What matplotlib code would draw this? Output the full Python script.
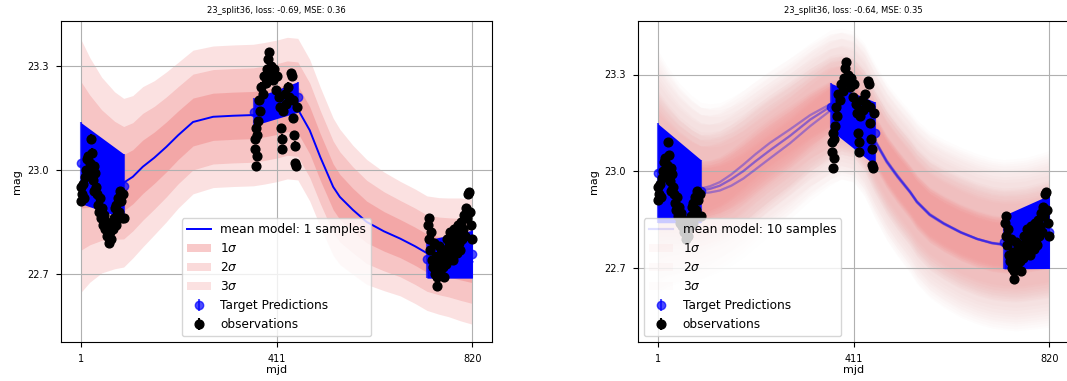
import numpy as np
import matplotlib
matplotlib.use("Agg")
import matplotlib.pyplot as plt

# time grid on which the fitted models are evaluated
mjd_grid = [1, 20, 45, 72, 91, 110, 131, 155, 180, 205, 236, 278, 320, 362, 385, 411,
            433, 455, 480, 502, 529, 543, 570, 599, 635, 669, 700, 725, 750, 770, 795, 820]

# fit with a single model sample
mean_1 = [23.012, 23.0, 22.985, 22.97, 22.963, 22.98, 23.009, 23.035, 23.066, 23.10, 23.138,
          23.153, 23.156, 23.158, 23.163, 23.17, 23.178, 23.175, 23.114, 23.037, 22.951, 22.922,
          22.885, 22.85, 22.823, 22.802, 22.78, 22.76, 22.752, 22.748, 22.742, 22.735]
sigma_1 = [0.122, 0.108, 0.094, 0.085, 0.081, 0.078, 0.077, 0.074, 0.072, 0.070, 0.069,
           0.068, 0.068, 0.068, 0.068, 0.068, 0.068, 0.068, 0.068, 0.067, 0.066, 0.065,
           0.062, 0.060, 0.057, 0.055, 0.055, 0.055, 0.056, 0.057, 0.059, 0.060]

# fit with 10 model samples: three distinct mean tracks
mean_10_a = [23.0, 22.986, 22.968, 22.952, 22.946, 22.953, 22.966, 22.99, 23.02, 23.052, 23.088,
             23.13, 23.174, 23.208, 23.215, 23.202, 23.162, 23.098, 23.033, 22.988, 22.937, 22.907,
             22.867, 22.839, 22.811, 22.79, 22.778, 22.773, 22.772, 22.775, 22.782, 22.79]
mean_10_b = [23.0, 22.985, 22.965, 22.948, 22.94, 22.945, 22.955, 22.975, 23.0, 23.03, 23.065,
             23.11, 23.16, 23.2, 23.21, 23.2, 23.16, 23.095, 23.03, 22.985, 22.935, 22.905,
             22.865, 22.838, 22.81, 22.79, 22.777, 22.772, 22.772, 22.775, 22.782, 22.79]
mean_10_c = [23.0, 22.983, 22.961, 22.942, 22.932, 22.934, 22.94, 22.955, 22.977, 23.005, 23.04,
             23.087, 23.14, 23.188, 23.204, 23.197, 23.158, 23.092, 23.027, 22.982, 22.933, 22.903,
             22.863, 22.836, 22.809, 22.789, 22.776, 22.771, 22.771, 22.774, 22.781, 22.789]
sigma_10 = [0.114, 0.104, 0.094, 0.087, 0.083, 0.080, 0.078, 0.077, 0.076, 0.075, 0.074,
            0.073, 0.072, 0.072, 0.071, 0.071, 0.072, 0.073, 0.074, 0.075, 0.076, 0.077,
            0.078, 0.079, 0.080, 0.080, 0.080, 0.080, 0.081, 0.081, 0.082, 0.083]
track_of_sample = [0, 1, 2, 0, 1, 2, 0, 1, 2, 1]
sigma_scale = [0.80, 0.84, 0.88, 0.92, 0.95, 0.98, 1.01, 1.04, 1.07, 1.10]

# target predictions at the edges of the three observing seasons
pred_mjd = [1, 91, 363, 455, 725, 820]
pred_mag_1 = [23.02, 22.953, 23.167, 23.21, 22.743, 22.757]
pred_err_1 = [0.117, 0.093, 0.039, 0.044, 0.055, 0.069]
pred_mag_10 = [22.994, 22.938, 23.2, 23.117, 22.78, 22.812]
pred_err_10 = [0.154, 0.098, 0.073, 0.098, 0.083, 0.114]

# observed light curve
obs_mjd = [1, 2, 4, 6, 8, 10, 12, 14, 16, 18, 20, 22, 24, 26, 28, 30, 32, 34, 36, 38, 40, 42,
           44, 46, 48, 50, 52, 54, 56, 58, 60, 62, 64, 66, 68, 70, 72, 74, 76, 78, 80, 82, 84,
           86, 88, 90, 91,
           365, 366, 367, 368, 369, 370, 372, 374, 376, 379, 382, 385, 388, 391, 393, 395, 397,
           400, 403, 406, 409, 412, 415, 418, 420, 421, 422, 425, 428, 431, 434, 437, 440, 442,
           444, 446, 448, 449, 450, 452, 454,
           728, 729, 730, 731, 733, 735, 737, 739, 741, 743, 745, 747, 749, 751, 753, 755, 757,
           759, 761, 763, 765, 767, 769, 771, 773, 775, 777, 779, 781, 783, 785, 787, 789, 791,
           793, 795, 797, 799, 801, 803, 805, 807, 809, 811, 813, 815, 817, 819]
obs_mag = [22.95, 22.91, 22.93, 22.96, 22.92, 22.98, 23.00, 23.03, 23.04, 22.99, 23.02, 23.09,
           23.05, 22.97, 22.94, 23.01, 22.99, 22.95, 22.93, 22.90, 22.88, 22.92, 22.86, 22.89,
           22.84, 22.87, 22.83, 22.85, 22.81, 22.84, 22.79, 22.82, 22.80, 22.85, 22.83, 22.86,
           22.89, 22.84, 22.90, 22.87, 22.92, 22.88, 22.94, 22.91, 22.86, 22.93, 22.86,
           23.06, 23.09, 23.01, 23.12, 23.04, 23.10, 23.14, 23.20, 23.17, 23.24, 23.22, 23.27,
           23.25, 23.29, 23.32, 23.34, 23.28, 23.30, 23.26, 23.29, 23.23, 23.27, 23.21, 23.18,
           23.12, 23.09, 23.06, 23.17, 23.22, 23.19, 23.24, 23.21, 23.28, 23.27, 23.20, 23.15,
           23.10, 23.07, 23.02, 23.01, 23.18,
           22.84, 22.80, 22.86, 22.77, 22.82, 22.74, 22.72, 22.79, 22.70, 22.75, 22.69, 22.665,
           22.73, 22.78, 22.71, 22.76, 22.74, 22.72, 22.69, 22.77, 22.73, 22.80, 22.75, 22.78,
           22.82, 22.76, 22.80, 22.74, 22.83, 22.78, 22.81, 22.76, 22.84, 22.79, 22.82, 22.77,
           22.85, 22.80, 22.83, 22.87, 22.81, 22.89, 22.86, 22.93, 22.935, 22.88, 22.84, 22.80]
obs_err = 0.012

titles = ["23_split36, loss: -0.69, MSE: 0.36", "23_split36, loss: -0.64, MSE: 0.35"]

x = np.array(mjd_grid)


def draw_fit(ax, means, sigmas, n_samples, line_alpha, band_alpha, pred_mag, pred_err):
    for i, (m, s) in enumerate(zip(means, sigmas)):
        m = np.array(m)
        s = np.array(s)
        ax.plot(x, m, color="blue", lw=1.4 if n_samples == 1 else 1.6, alpha=line_alpha,
                label=f"mean model: {n_samples} samples" if i == 0 else None)
        for k, a in zip((1, 2, 3), band_alpha):
            ax.fill_between(x, m - k * s, m + k * s, color="lightcoral", alpha=a, lw=0,
                            label=rf"{k}$\sigma$" if i == 0 else None)

    pm = np.array(pred_mag)
    pe = np.array(pred_err)
    for j in range(0, len(pred_mjd), 2):
        ax.fill_between(pred_mjd[j:j + 2], (pm - pe)[j:j + 2], (pm + pe)[j:j + 2],
                        color="blue", lw=0, zorder=3)
    ax.errorbar(pred_mjd, pm, yerr=pe, fmt="o", color="blue", ms=6, alpha=0.7,
                zorder=3, label="Target Predictions")
    ax.errorbar(obs_mjd, obs_mag, yerr=obs_err, fmt="o", color="black", ms=6.3,
                zorder=4, label="observations")


fig = plt.figure(figsize=(10.67, 3.81), dpi=100)
ax1 = fig.add_axes([61 / 1067, 39 / 381, 431 / 1067, 321 / 381])
ax2 = fig.add_axes([638 / 1067, 39 / 381, 431 / 1067, 321 / 381])

draw_fit(ax1, [mean_1], [sigma_1], 1, 1.0, (0.42, 0.29, 0.23), pred_mag_1, pred_err_1)

tracks = [mean_10_a, mean_10_b, mean_10_c]
draw_fit(ax2, [tracks[t] for t in track_of_sample],
         [np.array(sigma_10) * f for f in sigma_scale], 10, 0.12,
         (0.05, 0.035, 0.025), pred_mag_10, pred_err_10)

ax1.set_ylim(22.504, 23.429)
ax2.set_ylim(22.47, 23.466)

for ax, title, loc in zip((ax1, ax2), titles, ("lower center", "lower left")):
    ax.set_xlim(-40, 861)
    ax.set_xticks([1, 411, 820])
    ax.set_yticks([22.7, 23.0, 23.3])
    ax.tick_params(labelsize=7, pad=5)
    ax.grid(True)
    ax.set_title(title, fontsize=6)
    ax.set_xlabel("mjd", fontsize=8, labelpad=1)
    ax.set_ylabel("mag", fontsize=8)
    ax.legend(loc=loc, fontsize=8.7)

fig.savefig("out.png", dpi=100)
